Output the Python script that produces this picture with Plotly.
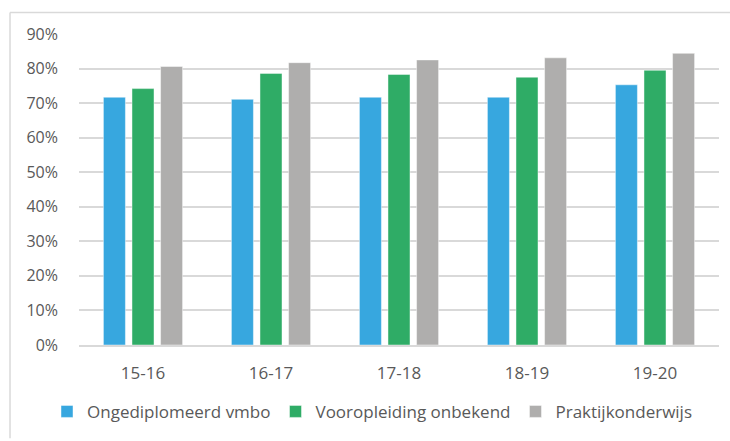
import plotly.graph_objects as go

years = ["15-16", "16-17", "17-18", "18-19", "19-20"]
ongediplomeerd_vmbo = [0.717, 0.711, 0.717, 0.717, 0.753]
vooropleiding_onbekend = [0.742, 0.786, 0.783, 0.775, 0.795]
praktijkonderwijs = [0.806, 0.817, 0.825, 0.831, 0.844]

series = [
    ("Ongediplomeerd vmbo", ongediplomeerd_vmbo, "#37A7DF"),
    ("Vooropleiding onbekend", vooropleiding_onbekend, "#2FAC66"),
    ("Praktijkonderwijs", praktijkonderwijs, "#AFAEAD"),
]

fig = go.Figure()
for name, vals, col in series:
    fig.add_trace(go.Bar(
        x=years, y=vals, name=name,
        marker=dict(color=col, line=dict(color="rgba(255,255,255,0.45)", width=1)),
    ))

yfont = dict(family="Open Sans", size=16, color="#595959")
xfont = dict(family="Open Sans", size=17, color="#595959")

fig.update_layout(
    width=730, height=441,
    margin=dict(l=79, r=11, t=34, b=90),
    paper_bgcolor="white", plot_bgcolor="white",
    barmode="group", bargap=0.33, bargroupgap=0.23,
    font=yfont,
    showlegend=True,
    legend=dict(orientation="h", x=-0.05, xanchor="left", y=-0.215, yanchor="middle",
                font=dict(family="Open Sans", size=17, color="#595959"),
                itemwidth=30, traceorder="normal"),
    xaxis=dict(showgrid=False, showline=True, linecolor="#D9D9D9", linewidth=1.5,
               ticks="", ticklabelstandoff=12, tickfont=xfont),
    yaxis=dict(range=[0, 0.9], dtick=0.1, tickformat=".0%", showgrid=True,
               gridcolor="#D9D9D9", gridwidth=1.5, zeroline=False, showline=False,
               ticks="", ticklabelstandoff=20, tickfont=yfont),
    shapes=[
        dict(type="line", xref="paper", yref="paper", x0=-0.1078, x1=1.1, y0=1.0694, y1=1.0694,
             line=dict(color="#D9D9D9", width=1.5)),
        dict(type="line", xref="paper", yref="paper", x0=-0.1078, x1=-0.1078, y0=1.0694, y1=-0.3,
             line=dict(color="#D9D9D9", width=1.5)),
    ],
)

fig.write_html("out.html", config={"displayModeBar": False},
               post_script="document.body.style.margin='0';document.body.style.overflow='hidden';")
